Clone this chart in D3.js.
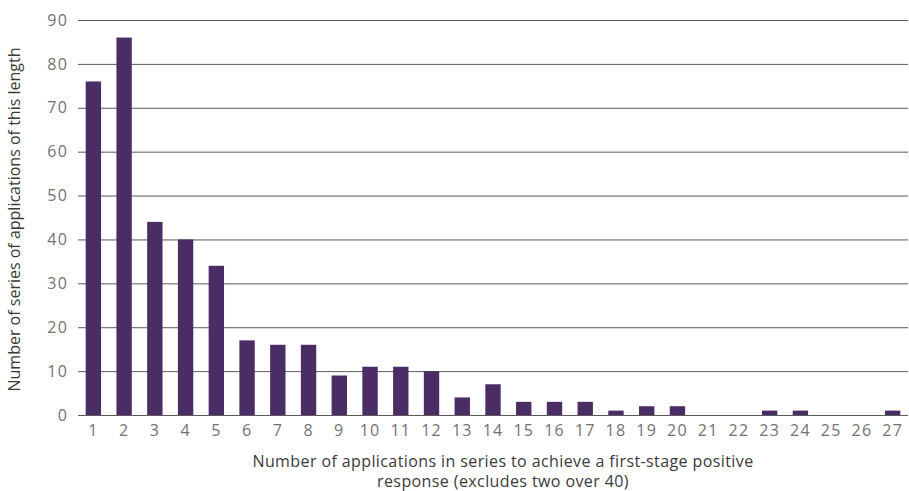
<!DOCTYPE html>
<html><head><meta charset="utf-8">
<script src="https://cdn.jsdelivr.net/npm/d3@7"></script>
<style>body{margin:0;background:#fff}svg{display:block}</style>
</head><body>
<svg id="c" width="909" height="491"></svg>
<script>
const categories = ["1","2","3","4","5","6","7","8","9","10","11","12","13","14","15","16","17","18","19","20","21","22","23","24","25","26","27"];
const values = [76,86,44,40,34,17,16,16,9,11,11,10,4,7,3,3,3,1,2,2,0,0,1,1,0,0,1];
const yTicks = [0,10,20,30,40,50,60,70,80,90];
const xTitle = ["Number of applications in series to achieve a first-stage positive", "response (excludes two over 40)"];
const yTitle = "Number of series of applications of this length";

const svg = d3.select("#c");
const m = {l:78, r:908, t:20, b:415};
const x = d3.scaleBand().domain(categories).range([m.l, m.r]).paddingInner(0.5).paddingOuter(0.25);
const y = d3.scaleLinear().domain([0,90]).range([m.b, m.t]);
const font = "'Open Sans', sans-serif";

const grid = svg.append("g").attr("transform", `translate(${m.l},0)`)
  .call(d3.axisLeft(y).tickValues(yTicks).tickSize(-(m.r - m.l)).tickFormat(d3.format("d")).tickPadding(10));
grid.select(".domain").remove();
grid.selectAll(".tick line").attr("stroke", "#5a5a5a").attr("stroke-width", 1);
grid.selectAll(".tick text").attr("font-family", font).attr("font-size", 16)
  .attr("letter-spacing", 1.2).attr("fill", "#727272");

svg.append("g").selectAll("rect").data(values).join("rect")
  .attr("x", (d,i) => x(categories[i]))
  .attr("width", x.bandwidth())
  .attr("y", d => y(d))
  .attr("height", d => y(0) - y(d))
  .attr("fill", "#4b2d66");

const xa = svg.append("g").attr("transform", `translate(0,${m.b})`)
  .call(d3.axisBottom(x).tickSize(0).tickPadding(10));
xa.select(".domain").remove();
xa.selectAll(".tick text").attr("font-family", font).attr("font-size", 16)
  .attr("letter-spacing", 1.2).attr("fill", "#727272");

svg.append("text").attr("font-family", font).attr("font-size", 16).attr("letter-spacing", 0.4)
  .attr("fill", "#3a3a3a").attr("text-anchor", "middle")
  .selectAll("tspan").data(xTitle).join("tspan")
  .attr("x", (m.l + m.r)/2 + 10).attr("y", (d,i) => 467 + i*20).text(d => d);

svg.append("text").attr("transform", `translate(20,${(m.t + m.b)/2 + 2}) rotate(-90)`)
  .attr("font-family", font).attr("font-size", 16).attr("fill", "#3a3a3a")
  .attr("text-anchor", "middle").text(yTitle);
</script>
</body></html>
